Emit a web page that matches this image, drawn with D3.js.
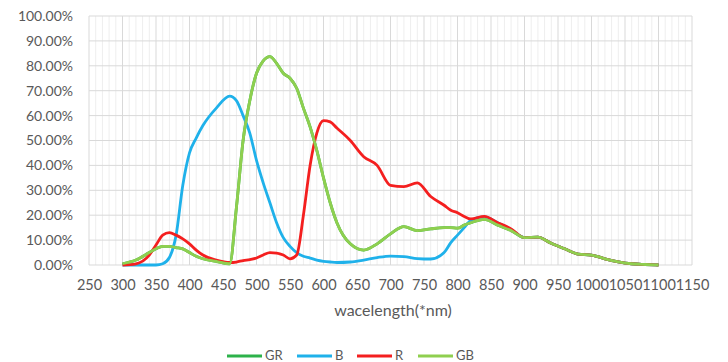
<!DOCTYPE html>
<html><head><meta charset="utf-8">
<script src="https://cdn.jsdelivr.net/npm/d3@7"></script>
<style>body{margin:0;background:#fff}svg{display:block}text{font-family:Lato,"Open Sans",sans-serif}</style>
</head><body><svg id="c" width="728" height="362"></svg>
<script>
const wavelength = [300,320,340,350,360,370,380,390,400,410,420,440,460,470,480,490,500,510,520,530,540,550,560,570,580,590,600,610,620,640,660,680,700,720,740,760,780,790,800,810,820,840,860,880,900,920,940,960,980,1000,1020,1040,1060,1080,1100];
const GB = [0.5,2,5,6.5,7.5,7.5,7,6.5,5,3.5,2.5,1.5,0.5,23,50,66,77,82,83.7,81,77,75,71,63,55.5,46,35,25,17,8.5,6,8.5,12.5,15.4,13.8,14.5,15,15,14.8,16,17,18.3,16,13.8,11,11.2,8.7,6.5,4.4,4,2.5,1.3,0.5,0.2,0];
const GR = GB.slice();
const B = [0,0,0,0,0.5,3,12,32,45,51,56,63,67.8,66,60,53,42,33,25,17,11,7.5,5,3.5,2.8,2,1.5,1.2,1,1.2,2,3,3.6,3.4,2.6,2.4,5,9,12,15,18,19.3,17,14.3,11,11.2,8.7,6.5,4.4,4,2.5,1.3,0.5,0.2,0];
const R = [0,0.5,4,8,12,13,12,10.5,8.5,6,4,2,1,1.2,1.8,2.2,2.8,4,5,4.8,4,2.5,4,20,40,53,58,57.5,55,50,43.5,40,32,31.5,33,27.5,24,22,21,19.5,18.5,19.5,17,14.5,11,11.2,8.7,6.5,4.4,4,2.5,1.3,0.5,0.2,0];
const seriesNames = ["GR","B","R","GB"];
const seriesColors = ["#2db24a","#1fb1ea","#f41f1f","#8fcf4f"];
const xTicks = d3.range(250,1151,50);
const yTicks = d3.range(0,1.0001,0.1);

const svg = d3.select("#c");
const m = {l:89,r:692,t:16,b:265};
const x = d3.scaleLinear().domain([250,1150]).range([m.l,m.r]);
const y = d3.scaleLinear().domain([0,1]).range([m.b,m.t]);

svg.append("g").selectAll("line").data(d3.range(250,1151,10).filter(v=>v%50!==0)).join("line")
  .attr("x1",d=>x(d)).attr("x2",d=>x(d)).attr("y1",m.t).attr("y2",m.b)
  .attr("stroke","#eeeeee").attr("stroke-width",1);
svg.append("g").selectAll("line").data(xTicks).join("line")
  .attr("x1",d=>x(d)).attr("x2",d=>x(d)).attr("y1",m.t).attr("y2",m.b)
  .attr("stroke","#d9d9d9").attr("stroke-width",1);
svg.append("g").selectAll("line").data(yTicks).join("line")
  .attr("x1",m.l).attr("x2",m.r).attr("y1",d=>y(d)).attr("y2",d=>y(d))
  .attr("stroke","#d9d9d9").attr("stroke-width",1);

const yAxis = d3.axisLeft(y).tickValues(yTicks).tickFormat(d=>(d*100).toFixed(2)+"%").tickSize(0).tickPadding(16);
svg.append("g").attr("transform",`translate(${m.l},0)`).call(yAxis)
  .call(g=>g.select(".domain").remove())
  .selectAll("text").attr("font-size",14).attr("fill","#595959").attr("font-family","Lato,sans-serif");
const xAxis = d3.axisBottom(x).tickValues(xTicks).tickFormat(d3.format("d")).tickSize(0).tickPadding(15);
svg.append("g").attr("transform",`translate(0,${m.b})`).call(xAxis)
  .call(g=>g.select(".domain").remove())
  .selectAll("text").attr("font-size",14.5).attr("fill","#595959").attr("font-family","Lato,sans-serif");

svg.append("text").attr("x",393).attr("y",316).attr("text-anchor","middle")
  .attr("font-size",16).attr("fill","#595959").text("wacelength(*nm)");

const data = [GR,B,R,GB];
const line = d3.line().x((d,i)=>x(wavelength[i])).y(d=>y(d/100)).curve(d3.curveMonotoneX);
data.forEach((s,k)=>{
  svg.append("path").attr("d",line(s)).attr("fill","none")
    .attr("stroke",seriesColors[k]).attr("stroke-width",2.8).attr("stroke-linejoin","round");
});

const legX = [227,297,357,418];
const lg = svg.append("g");
seriesNames.forEach((n,k)=>{
  lg.append("line").attr("x1",legX[k]).attr("x2",legX[k]+35).attr("y1",356).attr("y2",356)
    .attr("stroke",seriesColors[k]).attr("stroke-width",3);
  lg.append("text").attr("x",legX[k]+38).attr("y",360).attr("font-size",13).attr("fill","#595959").text(n);
});
</script></body></html>
